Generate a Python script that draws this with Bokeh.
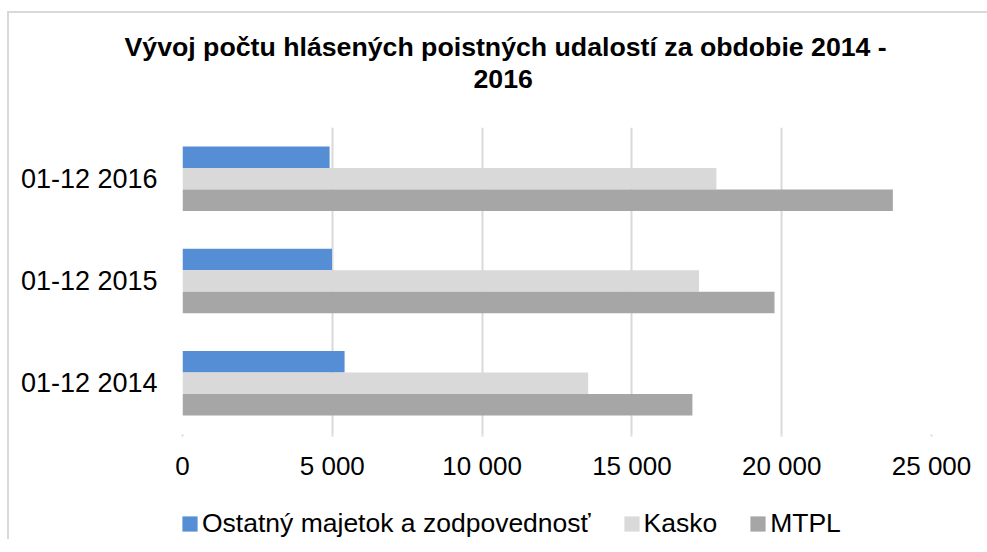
from bokeh.plotting import figure
from bokeh.layouts import column
from bokeh.models import (ColumnDataSource, FactorRange, Range1d, FixedTicker,
                          Legend, LegendItem, Title)
from bokeh.transform import dodge
from bokeh.embed import file_html
from bokeh.resources import INLINE

categories = ["01-12 2014", "01-12 2015", "01-12 2016"]
series_names = ["Ostatný majetok a zodpovednosť", "Kasko", "MTPL"]
ostatne = [5410, 4990, 4910]
kasko = [13540, 17240, 17820]
mtpl = [17020, 19760, 23710]
x_ticks = [0, 5000, 10000, 15000, 20000, 25000]
x_tick_labels = ["0", "5 000", "10 000", "15 000", "20 000", "25 000"]
title_lines = ["Vývoj počtu hlásených poistných udalostí za obdobie 2014 -", "2016"]

colors = ["#558ED5", "#D9D9D9", "#A6A6A6"]
FONT = "Liberation Sans"
FS = "26.5px"

src = ColumnDataSource(dict(cat=categories, ost=ostatne, kas=kasko, mtp=mtpl))

p = figure(frame_width=749, frame_height=307, output_backend="svg", toolbar_location=None,
           y_range=FactorRange(*categories, range_padding=0),
           x_range=Range1d(0, 25000),
           min_border_left=173, min_border_right=56,
           min_border_top=114, min_border_bottom=60,
           title=None)

bh = 0.21
p.hbar(y=dodge("cat", bh, range=p.y_range), right="ost", height=bh, source=src,
       fill_color=colors[0], line_color=None)
p.hbar(y=dodge("cat", 0, range=p.y_range), right="kas", height=bh, source=src,
       fill_color=colors[1], line_color=None)
p.hbar(y=dodge("cat", -bh, range=p.y_range), right="mtp", height=bh, source=src,
       fill_color=colors[2], line_color=None)

# spacer between frame and title, then the two title lines
spacer = Title(text=" ", text_font=FONT, text_font_size="10px", standoff=24)
t2 = Title(text=title_lines[1], align="left", offset=291,
           text_font=FONT, text_font_size="26.7px", text_font_style="bold",
           text_color="#000000", standoff=6)
t1 = Title(text=title_lines[0], align="left", offset=-58,
           text_font=FONT, text_font_size="26.7px", text_font_style="bold",
           text_color="#000000", standoff=6)
p.add_layout(spacer, "above")
p.add_layout(t2, "above")
p.add_layout(t1, "above")

p.outline_line_color = None
p.background_fill_color = "white"
p.border_fill_color = "white"

p.xgrid.ticker = FixedTicker(ticks=x_ticks)
p.xgrid.grid_line_color = "#D9D9D9"
p.xgrid.grid_line_width = 2
p.ygrid.grid_line_color = None

p.xaxis.ticker = FixedTicker(ticks=x_ticks)
p.xaxis.major_label_overrides = {t: l for t, l in zip(x_ticks, x_tick_labels)}
p.xaxis.axis_line_color = None
p.xaxis.major_tick_line_color = "#D9D9D9"
p.xaxis.major_tick_line_width = 2
p.xaxis.major_tick_out = 2
p.xaxis.major_tick_in = 0
p.xaxis.minor_tick_line_color = None
p.xaxis.major_label_standoff = 14
p.xaxis.major_label_text_font = FONT
p.xaxis.major_label_text_font_size = "26px"
p.xaxis.major_label_text_color = "#000000"

p.yaxis.axis_line_color = None
p.yaxis.major_tick_line_color = None
p.yaxis.major_tick_out = 0
p.yaxis.major_tick_in = 0
p.yaxis.minor_tick_line_color = None
p.yaxis.major_label_standoff = 25
p.yaxis.major_label_text_font = FONT
p.yaxis.major_label_text_font_size = "27px"
p.yaxis.major_label_text_color = "#000000"

# legend strip below the chart (its frame is aligned with the chart's frame)
pl = figure(width=978, height=45, output_backend="svg", toolbar_location=None,
            x_range=Range1d(0, 1), y_range=Range1d(0, 1),
            x_axis_type=None, y_axis_type=None,
            min_border=0, min_border_left=0, min_border_right=0,
            min_border_top=0, min_border_bottom=0)
pl.outline_line_color = None
pl.xgrid.grid_line_color = None
pl.ygrid.grid_line_color = None
# swatch renderers: one bar each, placed outside the visible range
swatch_src = ColumnDataSource(dict(y=[-5], right=[0.5]))
leg_renderers = [pl.hbar(y="y", right="right", height=1, source=swatch_src,
                         fill_color=c, line_color=None) for c in colors]
legend = Legend(items=[LegendItem(label=n, renderers=[r])
                       for n, r in zip(series_names, leg_renderers)],
                orientation="horizontal", location=(-2, 0),
                glyph_width=19, glyph_height=19, label_standoff=3, spacing=31,
                padding=0, margin=0, border_line_color=None,
                background_fill_alpha=0,
                label_text_font=FONT, label_text_font_size=FS,
                label_text_color="#000000")
pl.add_layout(legend, "center")

layout = column(p, pl, spacing=0)
layout.styles = {"border-top": "2px solid #d9d9d9", "border-left": "2px solid #d9d9d9",
                 "margin-top": "11px", "margin-left": "7px"}

open("out.html", "w").write(file_html(layout, INLINE))
